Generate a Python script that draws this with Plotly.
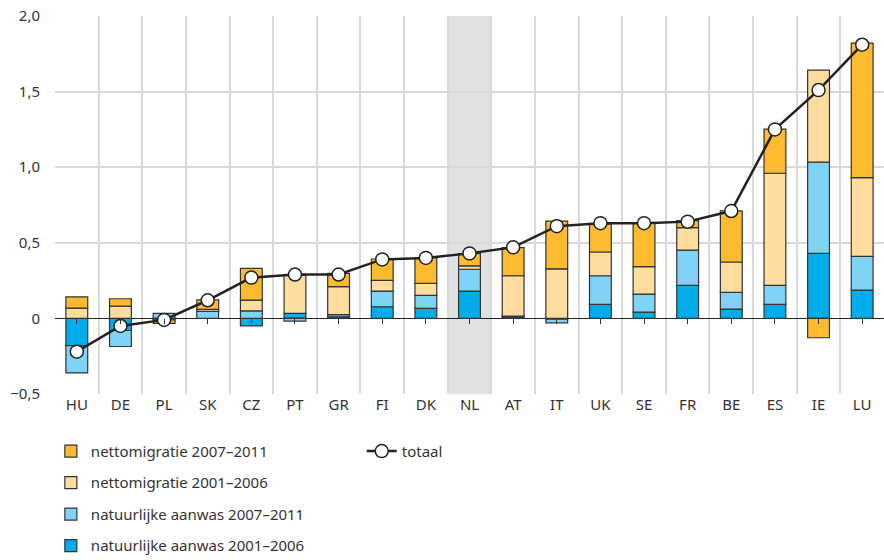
import plotly.graph_objects as go

# Countries in chart order
countries = ["HU", "DE", "PL", "SK", "CZ", "PT", "GR", "FI", "DK", "NL",
             "AT", "IT", "UK", "SE", "FR", "BE", "ES", "IE", "LU"]

# Components (% per year)
nat_2001_2006 = [-0.18, -0.08, 0.0, 0.0, -0.05, 0.033, 0.01, 0.077, 0.066, 0.18,
                 0.01, -0.005, 0.093, 0.042, 0.219, 0.062, 0.093, 0.43, 0.187]
nat_2007_2011 = [-0.18, -0.106, 0.033, 0.046, 0.05, -0.018, 0.015, 0.104, 0.086, 0.145,
                 0.005, -0.024, 0.189, 0.119, 0.233, 0.11, 0.126, 0.603, 0.223]
mig_2001_2006 = [0.068, 0.081, -0.01, 0.014, 0.071, 0.252, 0.185, 0.071, 0.08, 0.022,
                 0.267, 0.328, 0.157, 0.181, 0.148, 0.201, 0.741, 0.609, 0.521]
mig_2007_2011 = [0.075, 0.049, -0.023, 0.063, 0.21, 0.005, 0.088, 0.141, 0.169, 0.082,
                 0.186, 0.316, 0.185, 0.287, 0.046, 0.338, 0.292, -0.128, 0.89]
totaal = [-0.22, -0.05, -0.01, 0.12, 0.27, 0.29, 0.29, 0.39, 0.40, 0.43,
          0.47, 0.61, 0.63, 0.63, 0.64, 0.71, 1.25, 1.51, 1.81]

y_ticks = [-0.5, 0, 0.5, 1.0, 1.5, 2.0]
y_labels = ["\u22120,5", "0", "0,5", "1,0", "1,5", "2,0"]

highlight = "NL"

series = [
    ("natuurlijke aanwas 2001\u20132006", nat_2001_2006, "#00adea"),
    ("natuurlijke aanwas 2007\u20132011", nat_2007_2011, "#80d3f4"),
    ("nettomigratie 2001\u20132006", mig_2001_2006, "#fedd9f"),
    ("nettomigratie 2007\u20132011", mig_2007_2011, "#fdbb30"),
]

fig = go.Figure()

for i, (name, vals, col) in enumerate(series):
    fig.add_trace(go.Bar(
        x=countries, y=vals, name=name, width=0.5,
        marker=dict(color=col, line=dict(color="#333333", width=1.2)),
        legendgroup=f"g{i}", legendrank=10 - i, legend="legend",
    ))

fig.add_trace(go.Scatter(
    x=countries, y=totaal, name="totaal", mode="lines+markers",
    xaxis="x2",
    line=dict(color="#222222", width=2.5),
    marker=dict(size=13, color="white", line=dict(color="#222222", width=1.5)),
    legend="legend2",
))

# grey band behind the Netherlands
hi = countries.index(highlight)
fig.add_shape(type="rect", xref="x", yref="paper", x0=hi - 0.5, x1=hi + 0.5,
              y0=0, y1=1, fillcolor="#e0e1e3", line_width=0, layer="below")

fig.update_layout(
    width=884, height=560,
    margin=dict(l=55, r=0, t=16, b=166, autoexpand=False),
    barmode="relative",
    plot_bgcolor="white", paper_bgcolor="white",
    font=dict(family="Noto Sans", size=14, color="#333333"),
    xaxis=dict(
        categoryorder="array", categoryarray=countries,
        range=[-0.5, len(countries) - 0.5],
        tickson="boundaries", ticks="", showgrid=True,
        gridcolor="#d9d9d9", gridwidth=1.5, showline=False, zeroline=False,
        tickfont=dict(size=15),
    ),
    xaxis2=dict(
        overlaying="x", anchor="free", position=0.2,
        categoryorder="array", categoryarray=countries,
        range=[-0.5, len(countries) - 0.5],
        ticks="outside", ticklen=5, tickwidth=1.2, tickcolor="#333333",
        showticklabels=False, showgrid=False, showline=False, zeroline=False,
    ),
    yaxis=dict(
        range=[-0.5, 2.0], tickvals=y_ticks, ticktext=y_labels,
        showgrid=True, gridcolor="#d9d9d9", gridwidth=1.5,
        zeroline=True, zerolinecolor="#222222", zerolinewidth=1.2,
        ticklabelstandoff=14, tickfont=dict(size=15),
    ),
    legend=dict(
        x=-0.005, y=-0.108, xanchor="left", yanchor="top",
        orientation="v", traceorder="grouped", tracegroupgap=9,
        font=dict(size=15), bgcolor="rgba(0,0,0,0)",
    ),
    legend2=dict(
        x=0.37, y=-0.108, xanchor="left", yanchor="top",
        font=dict(size=15), bgcolor="rgba(0,0,0,0)",
    ),
    showlegend=True,
)

fig.write_html("out.html", config={"displayModeBar": False},
               post_script="document.body.style.margin='0px';")
